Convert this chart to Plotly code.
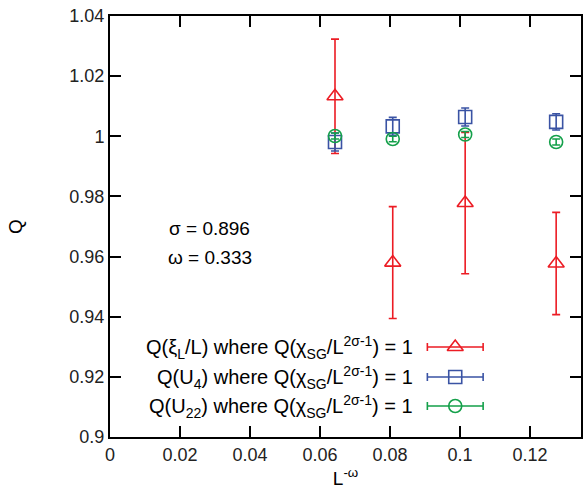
import plotly.graph_objects as go

# Finite-size crossing estimates versus L^-omega
x_vals = [0.0643, 0.0808, 0.1015, 0.1275]

q_xi = [1.0133, 0.9580, 0.9778, 0.9577]
q_xi_err = [0.0190, 0.0186, 0.0235, 0.0170]

q_u4 = [0.9981, 1.0033, 1.0064, 1.0048]
q_u4_err = [0.0030, 0.0030, 0.0030, 0.0027]

q_u22 = [1.0001, 0.9991, 1.0006, 0.9981]
q_u22_err = [0.0010, 0.0009, 0.0010, 0.0010]

labels = [
    "Q(ξ<sub>L</sub>/L) where Q(χ<sub>SG</sub>/L<sup>2σ-1</sup>) = 1",
    "Q(U<sub>4</sub>) where Q(χ<sub>SG</sub>/L<sup>2σ-1</sup>) = 1",
    "Q(U<sub>22</sub>) where Q(χ<sub>SG</sub>/L<sup>2σ-1</sup>) = 1",
]

RED = "#ec1c24"
BLUE = "#3a53a4"
GREEN = "#14a04a"
FONT = "Liberation Sans, Arial, Helvetica, sans-serif"

series = [
    (q_xi, q_xi_err, RED, "triangle-up-open", 14),
    (q_u4, q_u4_err, BLUE, "square-open", 13),
    (q_u22, q_u22_err, GREEN, "circle-open", 13),
]

fig = go.Figure()

for ys, errs, col, sym, size in series:
    fig.add_trace(go.Scatter(
        x=x_vals, y=ys, mode="markers",
        marker=dict(symbol=sym, size=size, color=col, line=dict(width=1.6, color=col)),
        error_y=dict(type="data", array=errs, visible=True, color=col, thickness=1.6, width=4),
        showlegend=False,
    ))

# Key: text on the left, sample symbol with horizontal bar on the right
key_rows = [0.2136, 0.1424, 0.0736]
key_x = 0.733
key_half = 0.0592
for (ys, errs, col, sym, size), row, lab in zip(series, key_rows, labels):
    fig.add_trace(go.Scatter(
        x=[key_x], y=[row], mode="markers", xaxis="x2", yaxis="y2",
        marker=dict(symbol=sym, size=size, color=col, line=dict(width=1.6, color=col)),
        error_x=dict(type="constant", value=key_half, visible=True, color=col, thickness=1.6, width=4),
        showlegend=False, hoverinfo="skip",
    ))
    fig.add_annotation(
        x=0.647, y=row, xref="paper", yref="paper", xanchor="right", yanchor="middle",
        text=lab, showarrow=False, font=dict(size=20, color="black", family=FONT),
    )

fig.add_annotation(x=0.2114, y=0.496, xref="paper", yref="paper", xanchor="center",
                   yanchor="middle", text="σ = 0.896",
                   showarrow=False, font=dict(size=19, color="black", family=FONT))
fig.add_annotation(x=0.2114, y=0.427, xref="paper", yref="paper", xanchor="center",
                   yanchor="middle", text="ω = 0.333",
                   showarrow=False, font=dict(size=19, color="black", family=FONT))

axis_common = dict(
    showline=True, linecolor="black", linewidth=2, mirror="ticks",
    ticks="inside", tickcolor="black", tickwidth=2, ticklen=11,
    showgrid=False, zeroline=False,
    tickfont=dict(size=18, color="#222", family=FONT),
)

fig.update_layout(
    width=584, height=495,
    margin=dict(l=110, r=1, t=16, b=58),
    paper_bgcolor="white", plot_bgcolor="white",
    font=dict(family=FONT, color="black"),
    xaxis=dict(range=[0, 0.1346], tick0=0, dtick=0.02,
               title=dict(text="L<sup>-ω</sup>", font=dict(size=19, family=FONT), standoff=8),
               **axis_common),
    yaxis=dict(range=[0.9, 1.04], tick0=0.9, dtick=0.02,
               title=dict(text="Q", font=dict(size=19, family=FONT), standoff=42),
               **axis_common),
    xaxis2=dict(overlaying="x", range=[0, 1], visible=False),
    yaxis2=dict(overlaying="y", range=[0, 1], visible=False),
)

fig.write_html("out.html")
